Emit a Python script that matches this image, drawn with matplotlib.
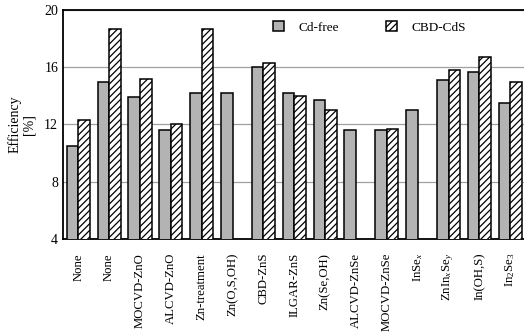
import numpy as np
import matplotlib.pyplot as plt

plt.rcParams['font.family'] = ['Liberation Serif', 'DejaVu Serif']
plt.rcParams['mathtext.fontset'] = 'custom'
plt.rcParams['mathtext.rm'] = 'Liberation Serif'
plt.rcParams['mathtext.it'] = 'Liberation Serif:italic'
plt.rcParams['hatch.linewidth'] = 0.9

# Buffer layers and the best cell efficiencies [%]
buffers = ['None', 'None', 'MOCVD-ZnO', 'ALCVD-ZnO', 'Zn-treatment', 'Zn(O,S,OH)',
           'CBD-ZnS', 'ILGAR-ZnS', 'Zn(Se,OH)', 'ALCVD-ZnSe', 'MOCVD-ZnSe',
           r'InSe$_x$', r'ZnIn$_x$Se$_y$', 'In(OH,S)', r'In$_2$Se$_3$']
cd_free = [10.5, 15.0, 13.9, 11.6, 14.2, 14.2, 16.0, 14.2, 13.7, 11.6, 11.6, 13.0, 15.1, 15.7, 13.5]
cbd_cds = [12.3, 18.7, 15.2, 12.0, 18.7, None, 16.3, 14.0, 13.0, None, 11.7, None, 15.8, 16.7, 15.0]


def main():
    fig = plt.figure(figsize=(5.24, 3.35), dpi=100)
    ax = fig.add_axes([0.1202, 0.2866, 0.8798, 0.6836])

    x = np.arange(len(buffers))
    w = 0.375
    ax.bar(x - w / 2, cd_free, w, color='#b3b3b3', edgecolor='black',
           linewidth=1.1, zorder=3, label='Cd-free')
    # no CdS reference cell for some buffers
    xs = [xi for xi, v in zip(x, cbd_cds) if v is not None]
    vs = [v for v in cbd_cds if v is not None]
    ax.bar(np.array(xs) + w / 2, vs, w, color='white', edgecolor='black', hatch='/////',
           linewidth=1.1, zorder=3, label='CBD-CdS')

    ax.set_ylim(4, 20)
    ax.set_xlim(-0.496, 14.444)
    ax.set_yticks([4, 8, 12, 16, 20])
    ax.yaxis.grid(True, color='#a0a0a0', linewidth=0.9, zorder=0)
    ax.set_axisbelow(True)
    ax.set_xticks(x)
    ax.set_xticklabels(buffers, rotation=90, fontsize=9.2)
    ax.tick_params(axis='both', length=0, labelsize=10)
    ax.tick_params(axis='x', pad=10, labelsize=9.2)
    ax.spines['right'].set_visible(False)
    for s in ('left', 'bottom', 'top'):
        ax.spines[s].set_linewidth(1.3)

    ax.set_ylabel('Efficiency\n[%]', fontsize=10, linespacing=1.1, labelpad=6)

    ax.legend(loc='center', bbox_to_anchor=(0.665, 0.924), ncol=2, frameon=False,
              fontsize=9.5, handlelength=0.8, handleheight=0.8, handletextpad=1.1,
              columnspacing=3.6)

    fig.savefig('out.png', dpi=100)


if __name__ == "__main__":
    main()
